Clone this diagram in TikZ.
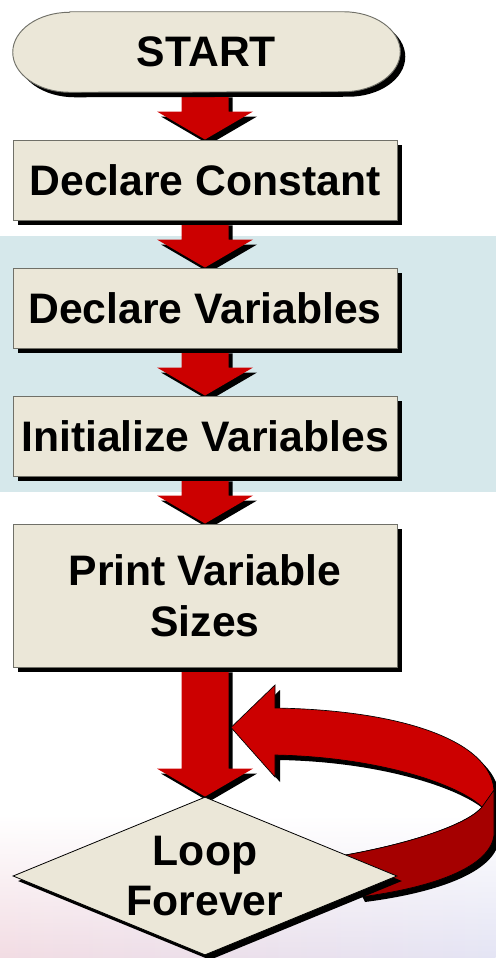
\documentclass[tikz,border=0pt]{standalone}
\usepackage{fontspec}
\setmainfont{Liberation Sans}
\usetikzlibrary{shapes.geometric,shadows,calc,fadings}

\definecolor{boxfill}{RGB}{235,231,216}
\definecolor{boxline}{RGB}{112,112,104}
\definecolor{arrowred}{RGB}{204,0,0}
\definecolor{darkred}{RGB}{165,0,0}
\definecolor{bandblue}{RGB}{214,232,235}
\definecolor{bgpink}{RGB}{242,220,227}
\definecolor{bglav}{RGB}{228,228,244}

\pgfdeclarelayer{back}
\pgfdeclarelayer{arrows}
\pgfdeclarelayer{boxes}
\pgfsetlayers{back,arrows,boxes,main}

\tikzfading[name=fadeup, top color=transparent!100, bottom color=transparent!0]

\tikzset{
  blockshadow/.style={drop shadow={shadow xshift=3.75pt, shadow yshift=-3.75pt, shadow scale=1, fill=black, opacity=1}},
  steptext/.style={font=\bfseries\fontsize{32}{38}\selectfont, align=center, inner sep=0pt},
  stepbox/.style={steptext, draw=boxline, fill=boxfill, line width=0.7pt, minimum width=288pt, minimum height=60pt, blockshadow},
  startshape/.style={draw=boxline, fill=boxfill, line width=0.7pt, blockshadow},
  loopbox/.style={steptext, diamond, aspect=2.43, draw=black, fill=boxfill, line width=0.6pt, minimum width=288pt, minimum height=118.5pt, blockshadow},
  ribbon/.style={fill=arrowred, draw=black, line width=0.5pt},
}

% block arrow from the bottom of one box to the top of the next
\newcommand\flowarrow[2]{%
  \foreach \dx/\dy/\col in {4/5/black,0/0/arrowred}
    \fill[\col] ($(#1.south -| #2.north)+(\dx-23.5,\dy)$) -- ($(#2.north)+(\dx-23.5,\dy-28)$)
      -- ($(#2.north)+(\dx-48,\dy-28)$) -- ($(#2.north)+(\dx,\dy)$) -- ($(#2.north)+(\dx+48,\dy-28)$)
      -- ($(#2.north)+(\dx+23.5,\dy-28)$) -- ($(#1.south -| #2.north)+(\dx+23.5,\dy)$) -- cycle;}

\begin{document}
\begin{tikzpicture}[x=0.75pt,y=-0.75pt]
\useasboundingbox (0,0) rectangle (496,958);

\node[steptext, minimum width=290.25pt, minimum height=60pt] (start) at (206.5,52) {START};
\node[stepbox] (const) at (205,180) {Declare Constant};
\node[stepbox] (vars) at (205,308) {Declare Variables};
\node[stepbox] (init) at (205,436) {Initialize Variables};
\node[stepbox, minimum height=107.25pt] (print) at (205,595.5) {Print Variable\\Sizes};
\node[loopbox] (loop) at (205,876) {Loop\\Forever};
\coordinate (looptip) at ($(print.south)+(26,60)$);

\begin{pgfonlayer}{boxes}
\path[startshape] ($(start.north west)+(57,0)$) -- ($(start.north east)+(-57,0)$)
  arc[start angle=-90, end angle=90, x radius=57, y radius=40]
  -- ($(start.south west)+(57,0)$)
  arc[start angle=90, end angle=270, x radius=57, y radius=40] -- cycle;
\end{pgfonlayer}

\begin{pgfonlayer}{back}
\fill[bandblue] (0,236) rectangle (496,492);
\shade[left color=bgpink, right color=bglav, path fading=fadeup] (0,815) rectangle (496,958);
\end{pgfonlayer}

\begin{pgfonlayer}{arrows}
\flowarrow{start}{const}
\flowarrow{const}{vars}
\flowarrow{vars}{init}
\flowarrow{init}{print}
\flowarrow{print}{loop}
% loop back
\path[ribbon, blockshadow] (looptip) -- (275,685) -- (275,708)
  .. controls (400,710) and (490,740) .. (494,790) -- (494,835)
  .. controls (490,868) and (430,888) .. (360,897) -- (340,856)
  .. controls (420,842) and (470,822) .. (482,807)
  .. controls (460,785) and (380,757) .. (275,755) -- (275,777) -- cycle;
\filldraw[darkred, draw=black, line width=0.5pt] (482,807) -- (494,790) -- (494,835)
  .. controls (490,868) and (430,888) .. (360,897) -- (340,856)
  .. controls (420,842) and (470,822) .. (482,807) -- cycle;
\end{pgfonlayer}
\end{tikzpicture}
\end{document}
